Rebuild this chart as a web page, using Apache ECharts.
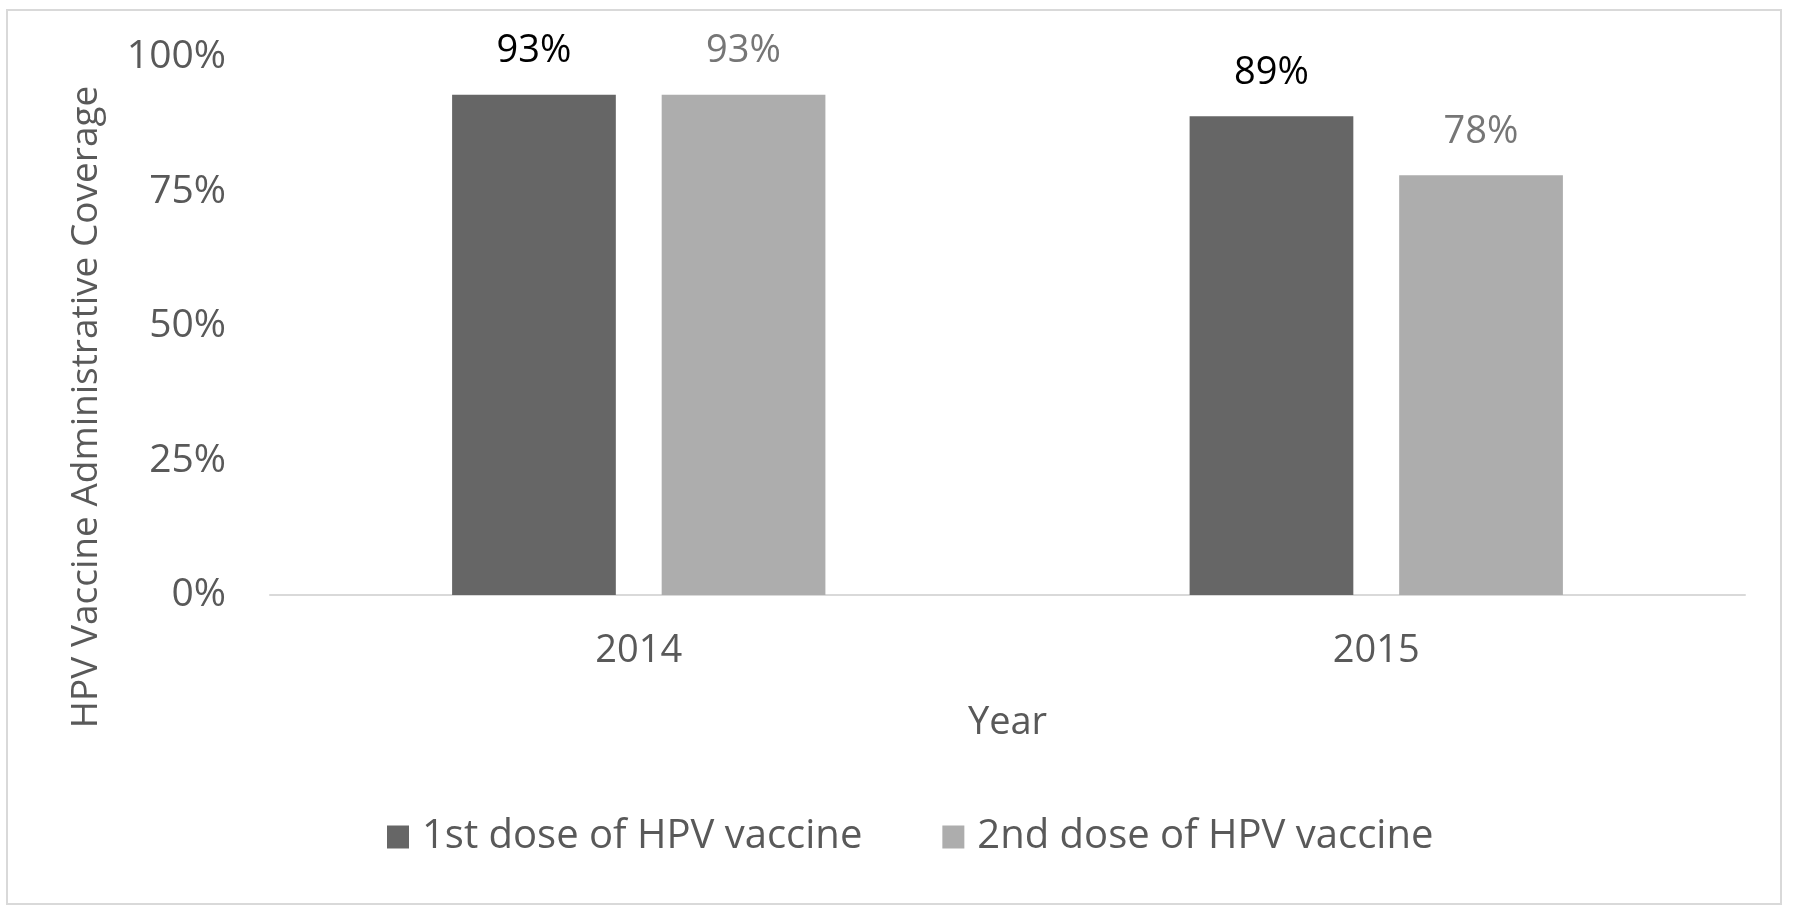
<!DOCTYPE html>
<html>
<head>
<meta charset="utf-8">
<script src="https://cdn.jsdelivr.net/npm/echarts@6/dist/echarts.min.js"></script>
<style>
html,body{margin:0;padding:0;background:#fff;}
#chart{width:1800px;height:908px;}
</style>
</head>
<body>
<div id="chart"></div>
<script>
const categories = ['2014', '2015'];
const firstDose = [0.93, 0.89];
const secondDose = [0.93, 0.78];
const seriesNames = ['1st dose of HPV vaccine', '2nd dose of HPV vaccine'];
const yAxisTitle = 'HPV Vaccine Administrative Coverage';
const xAxisTitle = 'Year';

const FONT = 'Open Sans';
const chart = echarts.init(document.getElementById('chart'));
const pct = v => Math.round(v * 100) + '%';

chart.setOption({
  animation: false,
  backgroundColor: '#ffffff',
  textStyle: { fontFamily: FONT },
  graphic: [
    {
      type: 'rect',
      shape: { x: 7, y: 10, width: 1774, height: 894 },
      style: { fill: 'none', stroke: '#d9d9d9', lineWidth: 2 },
      silent: true
    },
    {
      type: 'text',
      x: 86, y: 407,
      rotation: Math.PI / 2,
      style: {
        text: yAxisTitle,
        fill: '#595959',
        font: '37px "Open Sans"',
        align: 'center',
        verticalAlign: 'middle'
      },
      silent: true
    }
  ],
  grid: { left: 270, right: 55, top: 57, bottom: 313, containLabel: false },
  legend: {
    data: seriesNames,
    bottom: 46,
    left: 382,
    itemWidth: 22,
    itemHeight: 23,
    itemGap: 80,
    icon: 'rect',
    textStyle: { color: '#595959', fontSize: 40, fontFamily: FONT, padding: [0, 0, 0, 8] }
  },
  xAxis: {
    type: 'category',
    data: categories,
    name: xAxisTitle,
    nameLocation: 'middle',
    nameGap: 109,
    nameTextStyle: { color: '#595959', fontSize: 38, fontFamily: FONT },
    axisLine: { show: true, lineStyle: { color: '#d9d9d9', width: 2 } },
    axisTick: { show: false },
    axisLabel: { color: '#595959', fontSize: 38, fontFamily: FONT, margin: 37 },
    splitLine: { show: false }
  },
  yAxis: {
    type: 'value',
    min: 0,
    max: 1,
    interval: 0.25,
    axisLine: { show: false },
    axisTick: { show: false },
    splitLine: { show: false },
    axisLabel: { color: '#595959', fontSize: 39, fontFamily: FONT, margin: 44, formatter: v => pct(v) }
  },
  series: [
    {
      name: seriesNames[0],
      type: 'bar',
      data: firstDose,
      barWidth: '22.2%',
      barGap: '28%',
      itemStyle: { color: '#666666' },
      label: {
        show: true, position: 'top', distance: 24,
        color: '#000000', fontSize: 38, fontFamily: FONT,
        formatter: p => pct(p.value)
      }
    },
    {
      name: seriesNames[1],
      type: 'bar',
      data: secondDose,
      barWidth: '22.2%',
      itemStyle: { color: '#adadad' },
      label: {
        show: true, position: 'top', distance: 24,
        color: '#767676', fontSize: 38, fontFamily: FONT,
        formatter: p => pct(p.value)
      }
    }
  ]
});
</script>
</body>
</html>
